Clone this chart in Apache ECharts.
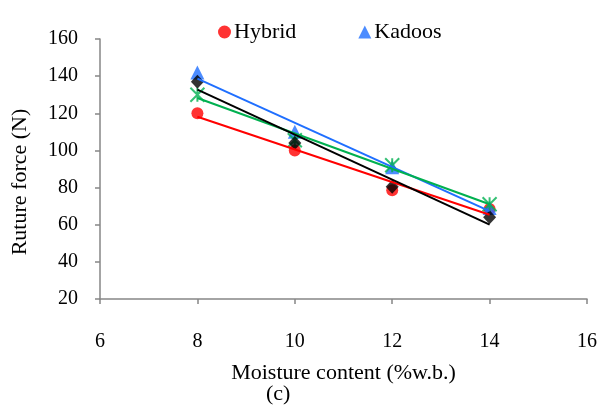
<!DOCTYPE html>
<html>
<head>
<meta charset="utf-8">
<script src="https://cdn.jsdelivr.net/npm/echarts@6/dist/echarts.min.js"></script>
<style>
  html, body { margin: 0; padding: 0; background: #fff; }
  #chart { width: 602px; height: 405px; }
</style>
</head>
<body>
<div id="chart"></div>
<script>
// moisture content levels (%w.b.)
const moisture = [8, 10, 12, 14];
// rupture force (N)
const hybrid = [120, 100, 78.5, 68.5];
const kadoos = [142, 110, 91, 69];
const seriesStar = [130, 105.5, 92, 71];
const seriesDiamond = [137, 104, 80.5, 64];

const FONT = '"Liberation Serif", "Times New Roman", serif';

// least squares line, drawn from first to last x
function trend(xs, ys) {
  const n = xs.length;
  const mx = xs.reduce((a, b) => a + b, 0) / n;
  const my = ys.reduce((a, b) => a + b, 0) / n;
  let sxy = 0, sxx = 0;
  for (let i = 0; i < n; i++) {
    sxy += (xs[i] - mx) * (ys[i] - my);
    sxx += (xs[i] - mx) * (xs[i] - mx);
  }
  const b = sxy / sxx;
  const a = my - b * mx;
  const x0 = xs[0], x1 = xs[n - 1];
  return [[x0, a + b * x0], [x1, a + b * x1]];
}

function pts(ys) {
  return moisture.map((x, i) => [x, ys[i]]);
}

function trendSeries(ys, color) {
  return {
    type: 'line',
    data: trend(moisture, ys),
    symbol: 'none',
    silent: true,
    z: 5,
    lineStyle: { color: color, width: 2 }
  };
}

const chart = echarts.init(document.getElementById('chart'));

chart.setOption({
  animation: false,
  backgroundColor: '#fff',
  grid: { left: 100, right: 15, top: 39, bottom: 106 },
  legend: {
    data: ['Hybrid', 'Kadoos'],
    left: 213,
    top: 16,
    itemWidth: 13,
    itemHeight: 13,
    itemGap: 62,
    textStyle: { fontFamily: FONT, fontSize: 22, color: '#000', padding: [0, 0, 0, -2] }
  },
  xAxis: {
    type: 'value',
    min: 6,
    max: 16,
    interval: 2,
    name: 'Moisture content (%w.b.)',
    nameLocation: 'middle',
    nameGap: 63,
    nameTextStyle: { fontFamily: FONT, fontSize: 22, color: '#000' },
    axisLine: { lineStyle: { color: '#868686', width: 1.5 } },
    axisTick: { show: true, inside: false, length: 5, lineStyle: { color: '#868686', width: 1.5 } },
    axisLabel: { fontFamily: FONT, fontSize: 20, color: '#000', margin: 33 },
    splitLine: { show: false }
  },
  yAxis: {
    type: 'value',
    min: 20,
    max: 160,
    interval: 20,
    name: 'Ruture force (N)',
    nameLocation: 'middle',
    nameGap: 69,
    nameTextStyle: { fontFamily: FONT, fontSize: 22, color: '#000', padding: [0, 26, 0, 0] },
    axisLine: { show: true, lineStyle: { color: '#868686', width: 1.5 } },
    axisTick: { show: true, inside: false, length: 5, lineStyle: { color: '#868686', width: 1.5 } },
    axisLabel: { fontFamily: FONT, fontSize: 20, color: '#000', margin: 22 },
    splitLine: { show: false }
  },
  graphic: [{
    type: 'text',
    left: 266,
    top: 383,
    style: { text: '(c)', font: '22px ' + FONT, fill: '#000' }
  }],
  series: [
    {
      name: 'Hybrid',
      type: 'scatter',
      data: pts(hybrid),
      symbol: 'circle',
      symbolSize: 12,
      itemStyle: { color: '#ff0000' },
      z: 2
    },
    {
      name: 'Kadoos',
      type: 'scatter',
      data: pts(kadoos),
      symbol: 'triangle',
      symbolSize: [14, 14],
      itemStyle: { color: '#1f6fff' },
      z: 3
    },
    {
      name: 'Series 3',
      type: 'scatter',
      data: pts(seriesStar),
      symbol: 'path://M0,0L10,10M10,0L0,10M5,0L5,10',
      symbolSize: 14,
      itemStyle: { color: 'none', borderColor: '#00b050', borderWidth: 2 },
      z: 4
    },
    {
      name: 'Series 4',
      type: 'scatter',
      data: pts(seriesDiamond),
      symbol: 'diamond',
      symbolSize: [13, 14],
      itemStyle: { color: '#000' },
      z: 4
    },
    trendSeries(hybrid, '#ff0000'),
    trendSeries(kadoos, '#1f6fff'),
    trendSeries(seriesStar, '#00b050'),
    trendSeries(seriesDiamond, '#000')
  ]
});
</script>
</body>
</html>
